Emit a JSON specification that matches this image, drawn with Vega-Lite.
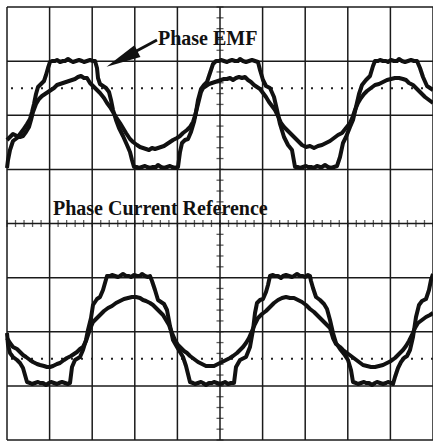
{
"$schema":"https://vega.github.io/schema/vega-lite/v6.json",
"width":426,"height":433,
"autosize":{"type":"none"},
"padding":{"left":7,"top":7,"right":0,"bottom":1},
"background":"white",
"config":{"view":{"stroke":null}},
"datasets":{
"gv":[{"d":0},{"d":1},{"d":2},{"d":3},{"d":4},{"d":5},{"d":6},{"d":7},{"d":8},{"d":9},{"d":10}],
"gh":[{"d":-4},{"d":-3},{"d":-2},{"d":-1},{"d":0},{"d":1},{"d":2},{"d":3},{"d":4}],
"dots":[{"d":2.5},{"d":-2.5}],
"tx":[{"d":0},{"d":0.2},{"d":0.4},{"d":0.6},{"d":0.8},{"d":1},{"d":1.2},{"d":1.4},{"d":1.6},{"d":1.8},{"d":2},{"d":2.2},{"d":2.4},{"d":2.6},{"d":2.8},{"d":3},{"d":3.2},{"d":3.4},{"d":3.6},{"d":3.8},{"d":4},{"d":4.2},{"d":4.4},{"d":4.6},{"d":4.8},{"d":5},{"d":5.2},{"d":5.4},{"d":5.6},{"d":5.8},{"d":6},{"d":6.2},{"d":6.4},{"d":6.6},{"d":6.8},{"d":7},{"d":7.2},{"d":7.4},{"d":7.6},{"d":7.8},{"d":8},{"d":8.2},{"d":8.4},{"d":8.6},{"d":8.8},{"d":9},{"d":9.2},{"d":9.4},{"d":9.6},{"d":9.8},{"d":10}],
"ty":[{"d":-4},{"d":-3.8},{"d":-3.6},{"d":-3.4},{"d":-3.2},{"d":-3},{"d":-2.8},{"d":-2.6},{"d":-2.4},{"d":-2.2},{"d":-2},{"d":-1.8},{"d":-1.6},{"d":-1.4},{"d":-1.2},{"d":-1},{"d":-0.8},{"d":-0.6},{"d":-0.4},{"d":-0.2},{"d":0},{"d":0.2},{"d":0.4},{"d":0.6},{"d":0.8},{"d":1},{"d":1.2},{"d":1.4},{"d":1.6},{"d":1.8},{"d":2},{"d":2.2},{"d":2.4},{"d":2.6},{"d":2.8},{"d":3},{"d":3.2},{"d":3.4},{"d":3.6},{"d":3.8},{"d":4}],
"w":[
{"s":"E1","t":7,"v":56},{"s":"E1","t":8,"v":64},{"s":"E1","t":10,"v":74},{"s":"E1","t":13,"v":83},{"s":"E1","t":17,"v":86},{"s":"E1","t":20,"v":90},{"s":"E1","t":23,"v":94},{"s":"E1","t":27,"v":100},{"s":"E1","t":30,"v":105},{"s":"E1","t":32,"v":112},{"s":"E1","t":34,"v":120},{"s":"E1","t":36,"v":130},{"s":"E1","t":38,"v":137},{"s":"E1","t":41,"v":140},{"s":"E1","t":44,"v":143},{"s":"E1","t":46,"v":149},{"s":"E1","t":48,"v":156},{"s":"E1","t":50,"v":162},
{"s":"E1","t":52,"v":163},{"s":"E1","t":55,"v":163},{"s":"E1","t":57,"v":164},{"s":"E1","t":60,"v":162},{"s":"E1","t":63,"v":163},{"s":"E1","t":65,"v":163},{"s":"E1","t":68,"v":165},{"s":"E1","t":71,"v":163},{"s":"E1","t":73,"v":162},{"s":"E1","t":76,"v":163},{"s":"E1","t":79,"v":164},{"s":"E1","t":82,"v":163},{"s":"E1","t":84,"v":162},{"s":"E1","t":87,"v":163},{"s":"E1","t":90,"v":164},{"s":"E1","t":93,"v":163},{"s":"E1","t":95,"v":163},
{"s":"E1","t":97,"v":156},{"s":"E1","t":98,"v":146},{"s":"E1","t":100,"v":140},{"s":"E1","t":103,"v":138},{"s":"E1","t":106,"v":136},{"s":"E1","t":109,"v":132},{"s":"E1","t":111,"v":124},{"s":"E1","t":113,"v":114},{"s":"E1","t":116,"v":104},{"s":"E1","t":119,"v":96},{"s":"E1","t":123,"v":88},{"s":"E1","t":127,"v":79},{"s":"E1","t":130,"v":72},{"s":"E1","t":132,"v":64},{"s":"E1","t":134,"v":57},
{"s":"E1","t":137,"v":57},{"s":"E1","t":139,"v":56},{"s":"E1","t":142,"v":57},{"s":"E1","t":145,"v":58},{"s":"E1","t":147,"v":57},{"s":"E1","t":150,"v":56},{"s":"E1","t":153,"v":57},{"s":"E1","t":156,"v":57},{"s":"E1","t":158,"v":59},{"s":"E1","t":161,"v":57},{"s":"E1","t":164,"v":56},{"s":"E1","t":167,"v":57},{"s":"E1","t":170,"v":58},{"s":"E1","t":172,"v":57},{"s":"E1","t":175,"v":56},{"s":"E1","t":178,"v":57},
{"s":"E1","t":180,"v":72},{"s":"E1","t":182,"v":81},{"s":"E1","t":185,"v":84},{"s":"E1","t":188,"v":85},{"s":"E1","t":191,"v":92},{"s":"E1","t":194,"v":102},{"s":"E1","t":196,"v":112},{"s":"E1","t":198,"v":124},{"s":"E1","t":201,"v":135},{"s":"E1","t":204,"v":139},{"s":"E1","t":207,"v":142},{"s":"E1","t":210,"v":151},{"s":"E1","t":213,"v":160},{"s":"E1","t":216,"v":163},
{"s":"E1","t":219,"v":163},{"s":"E1","t":221,"v":164},{"s":"E1","t":224,"v":163},{"s":"E1","t":227,"v":162},{"s":"E1","t":229,"v":163},{"s":"E1","t":232,"v":164},{"s":"E1","t":235,"v":163},{"s":"E1","t":238,"v":163},{"s":"E1","t":240,"v":165},{"s":"E1","t":243,"v":163},{"s":"E1","t":246,"v":162},{"s":"E1","t":249,"v":163},{"s":"E1","t":252,"v":164},{"s":"E1","t":255,"v":163},{"s":"E1","t":258,"v":162},
{"s":"E1","t":260,"v":154},{"s":"E1","t":263,"v":144},{"s":"E1","t":266,"v":138},{"s":"E1","t":270,"v":136},{"s":"E1","t":274,"v":127},{"s":"E1","t":277,"v":114},{"s":"E1","t":280,"v":100},{"s":"E1","t":284,"v":87},{"s":"E1","t":288,"v":79},{"s":"E1","t":292,"v":74},{"s":"E1","t":295,"v":57},
{"s":"E1","t":298,"v":57},{"s":"E1","t":300,"v":56},{"s":"E1","t":303,"v":57},{"s":"E1","t":306,"v":58},{"s":"E1","t":308,"v":57},{"s":"E1","t":311,"v":57},{"s":"E1","t":314,"v":56},{"s":"E1","t":317,"v":58},{"s":"E1","t":320,"v":57},{"s":"E1","t":322,"v":57},{"s":"E1","t":325,"v":59},{"s":"E1","t":328,"v":57},{"s":"E1","t":331,"v":56},{"s":"E1","t":334,"v":57},{"s":"E1","t":337,"v":58},
{"s":"E1","t":340,"v":67},{"s":"E1","t":343,"v":81},{"s":"E1","t":346,"v":87},{"s":"E1","t":350,"v":97},{"s":"E1","t":353,"v":104},{"s":"E1","t":356,"v":117},{"s":"E1","t":359,"v":130},{"s":"E1","t":362,"v":139},{"s":"E1","t":366,"v":144},{"s":"E1","t":370,"v":148},{"s":"E1","t":373,"v":158},{"s":"E1","t":375,"v":163},
{"s":"E1","t":378,"v":163},{"s":"E1","t":380,"v":164},{"s":"E1","t":383,"v":163},{"s":"E1","t":386,"v":163},{"s":"E1","t":388,"v":162},{"s":"E1","t":391,"v":164},{"s":"E1","t":394,"v":163},{"s":"E1","t":397,"v":163},{"s":"E1","t":399,"v":165},{"s":"E1","t":402,"v":163},{"s":"E1","t":405,"v":162},{"s":"E1","t":408,"v":163},{"s":"E1","t":411,"v":164},{"s":"E1","t":414,"v":163},{"s":"E1","t":417,"v":163},
{"s":"E1","t":420,"v":156},{"s":"E1","t":423,"v":147},{"s":"E1","t":427,"v":138},{"s":"E1","t":430,"v":136},{"s":"E1","t":433,"v":134},
{"s":"C1","t":7,"v":84},{"s":"C1","t":10,"v":87},{"s":"C1","t":13,"v":90},{"s":"C1","t":17,"v":88},{"s":"C1","t":20,"v":87},{"s":"C1","t":23,"v":88},{"s":"C1","t":26,"v":92},{"s":"C1","t":29,"v":97},{"s":"C1","t":31,"v":104},{"s":"C1","t":33,"v":112},{"s":"C1","t":36,"v":120},{"s":"C1","t":39,"v":125},{"s":"C1","t":42,"v":128},{"s":"C1","t":45,"v":130},{"s":"C1","t":48,"v":132},{"s":"C1","t":51,"v":134},{"s":"C1","t":54,"v":136},{"s":"C1","t":57,"v":139},{"s":"C1","t":60,"v":140},{"s":"C1","t":63,"v":141},{"s":"C1","t":66,"v":142},{"s":"C1","t":69,"v":143},{"s":"C1","t":72,"v":144},{"s":"C1","t":75,"v":145},{"s":"C1","t":78,"v":147},{"s":"C1","t":81,"v":148},{"s":"C1","t":84,"v":146},{"s":"C1","t":87,"v":146},{"s":"C1","t":90,"v":141},{"s":"C1","t":93,"v":138},{"s":"C1","t":96,"v":135},{"s":"C1","t":100,"v":131},{"s":"C1","t":104,"v":126},{"s":"C1","t":107,"v":121},{"s":"C1","t":110,"v":117},{"s":"C1","t":113,"v":112},{"s":"C1","t":116,"v":107},{"s":"C1","t":120,"v":101},{"s":"C1","t":123,"v":96},{"s":"C1","t":126,"v":91},{"s":"C1","t":130,"v":85},{"s":"C1","t":133,"v":82},{"s":"C1","t":137,"v":79},{"s":"C1","t":140,"v":77},{"s":"C1","t":143,"v":76},{"s":"C1","t":146,"v":75},{"s":"C1","t":149,"v":74},{"s":"C1","t":152,"v":76},{"s":"C1","t":155,"v":75},{"s":"C1","t":158,"v":76},{"s":"C1","t":161,"v":77},{"s":"C1","t":164,"v":78},{"s":"C1","t":167,"v":80},{"s":"C1","t":170,"v":82},{"s":"C1","t":173,"v":84},{"s":"C1","t":177,"v":86},{"s":"C1","t":180,"v":88},{"s":"C1","t":183,"v":91},{"s":"C1","t":187,"v":94},{"s":"C1","t":190,"v":97},{"s":"C1","t":193,"v":102},{"s":"C1","t":195,"v":108},{"s":"C1","t":197,"v":116},{"s":"C1","t":199,"v":124},{"s":"C1","t":201,"v":132},{"s":"C1","t":203,"v":136},{"s":"C1","t":206,"v":138},{"s":"C1","t":209,"v":140},{"s":"C1","t":212,"v":141},{"s":"C1","t":215,"v":142},{"s":"C1","t":218,"v":143},{"s":"C1","t":221,"v":144},{"s":"C1","t":224,"v":145},{"s":"C1","t":227,"v":145},{"s":"C1","t":230,"v":146},{"s":"C1","t":233,"v":144},{"s":"C1","t":236,"v":146},{"s":"C1","t":239,"v":147},{"s":"C1","t":242,"v":146},{"s":"C1","t":245,"v":147},{"s":"C1","t":248,"v":144},{"s":"C1","t":251,"v":142},{"s":"C1","t":254,"v":139},{"s":"C1","t":257,"v":137},{"s":"C1","t":260,"v":135},{"s":"C1","t":263,"v":131},{"s":"C1","t":266,"v":127},{"s":"C1","t":269,"v":122},{"s":"C1","t":272,"v":118},{"s":"C1","t":275,"v":114},{"s":"C1","t":278,"v":108},{"s":"C1","t":281,"v":101},{"s":"C1","t":284,"v":97},{"s":"C1","t":287,"v":94},{"s":"C1","t":290,"v":91},{"s":"C1","t":294,"v":87},{"s":"C1","t":298,"v":83},{"s":"C1","t":302,"v":79},{"s":"C1","t":306,"v":77},{"s":"C1","t":310,"v":78},{"s":"C1","t":314,"v":76},{"s":"C1","t":318,"v":78},{"s":"C1","t":322,"v":79},{"s":"C1","t":326,"v":81},{"s":"C1","t":330,"v":83},{"s":"C1","t":334,"v":86},{"s":"C1","t":338,"v":89},{"s":"C1","t":342,"v":91},{"s":"C1","t":346,"v":96},{"s":"C1","t":350,"v":101},{"s":"C1","t":353,"v":108},{"s":"C1","t":355,"v":114},{"s":"C1","t":358,"v":121},{"s":"C1","t":361,"v":126},{"s":"C1","t":364,"v":130},{"s":"C1","t":367,"v":133},{"s":"C1","t":371,"v":136},{"s":"C1","t":375,"v":139},{"s":"C1","t":379,"v":140},{"s":"C1","t":383,"v":142},{"s":"C1","t":387,"v":144},{"s":"C1","t":391,"v":145},{"s":"C1","t":395,"v":146},{"s":"C1","t":399,"v":146},{"s":"C1","t":403,"v":145},{"s":"C1","t":406,"v":144},{"s":"C1","t":409,"v":141},{"s":"C1","t":413,"v":139},{"s":"C1","t":417,"v":135},{"s":"C1","t":421,"v":131},{"s":"C1","t":425,"v":127},{"s":"C1","t":429,"v":124},{"s":"C1","t":433,"v":121},
{"s":"E2","t":7,"v":-109},{"s":"E2","t":8,"v":-121},{"s":"E2","t":10,"v":-129},{"s":"E2","t":13,"v":-133},{"s":"E2","t":17,"v":-136},{"s":"E2","t":20,"v":-139},{"s":"E2","t":23,"v":-144},{"s":"E2","t":25,"v":-151},{"s":"E2","t":27,"v":-158},
{"s":"E2","t":30,"v":-159},{"s":"E2","t":32,"v":-160},{"s":"E2","t":35,"v":-159},{"s":"E2","t":38,"v":-158},{"s":"E2","t":40,"v":-159},{"s":"E2","t":43,"v":-159},{"s":"E2","t":46,"v":-161},{"s":"E2","t":49,"v":-159},{"s":"E2","t":51,"v":-158},{"s":"E2","t":54,"v":-159},{"s":"E2","t":57,"v":-160},{"s":"E2","t":59,"v":-159},{"s":"E2","t":62,"v":-158},{"s":"E2","t":65,"v":-159},{"s":"E2","t":68,"v":-160},{"s":"E2","t":70,"v":-159},
{"s":"E2","t":72,"v":-143},{"s":"E2","t":75,"v":-136},{"s":"E2","t":80,"v":-133},{"s":"E2","t":83,"v":-126},{"s":"E2","t":86,"v":-116},{"s":"E2","t":88,"v":-106},{"s":"E2","t":91,"v":-94},{"s":"E2","t":93,"v":-81},{"s":"E2","t":97,"v":-75},{"s":"E2","t":100,"v":-73},{"s":"E2","t":103,"v":-66},{"s":"E2","t":105,"v":-59},{"s":"E2","t":107,"v":-52},
{"s":"E2","t":110,"v":-52},{"s":"E2","t":112,"v":-51},{"s":"E2","t":115,"v":-52},{"s":"E2","t":118,"v":-53},{"s":"E2","t":120,"v":-52},{"s":"E2","t":123,"v":-50},{"s":"E2","t":126,"v":-52},{"s":"E2","t":129,"v":-52},{"s":"E2","t":131,"v":-53},{"s":"E2","t":134,"v":-51},{"s":"E2","t":137,"v":-52},{"s":"E2","t":140,"v":-52},{"s":"E2","t":142,"v":-50},{"s":"E2","t":145,"v":-52},{"s":"E2","t":148,"v":-53},{"s":"E2","t":150,"v":-52},
{"s":"E2","t":152,"v":-57},{"s":"E2","t":155,"v":-66},{"s":"E2","t":158,"v":-76},{"s":"E2","t":161,"v":-78},{"s":"E2","t":164,"v":-80},{"s":"E2","t":167,"v":-86},{"s":"E2","t":170,"v":-102},{"s":"E2","t":173,"v":-116},{"s":"E2","t":177,"v":-123},{"s":"E2","t":180,"v":-128},{"s":"E2","t":183,"v":-133},{"s":"E2","t":186,"v":-142},{"s":"E2","t":188,"v":-150},{"s":"E2","t":190,"v":-158},
{"s":"E2","t":193,"v":-159},{"s":"E2","t":195,"v":-160},{"s":"E2","t":198,"v":-159},{"s":"E2","t":201,"v":-158},{"s":"E2","t":203,"v":-159},{"s":"E2","t":206,"v":-161},{"s":"E2","t":209,"v":-159},{"s":"E2","t":212,"v":-159},{"s":"E2","t":214,"v":-158},{"s":"E2","t":217,"v":-159},{"s":"E2","t":220,"v":-160},{"s":"E2","t":223,"v":-159},{"s":"E2","t":225,"v":-158},{"s":"E2","t":228,"v":-160},{"s":"E2","t":231,"v":-159},{"s":"E2","t":234,"v":-159},
{"s":"E2","t":236,"v":-143},{"s":"E2","t":240,"v":-136},{"s":"E2","t":246,"v":-133},{"s":"E2","t":250,"v":-123},{"s":"E2","t":253,"v":-106},{"s":"E2","t":255,"v":-89},{"s":"E2","t":257,"v":-79},{"s":"E2","t":260,"v":-76},{"s":"E2","t":263,"v":-75},{"s":"E2","t":266,"v":-68},{"s":"E2","t":268,"v":-61},{"s":"E2","t":270,"v":-52},
{"s":"E2","t":273,"v":-51},{"s":"E2","t":275,"v":-52},{"s":"E2","t":278,"v":-52},{"s":"E2","t":281,"v":-54},{"s":"E2","t":283,"v":-52},{"s":"E2","t":286,"v":-51},{"s":"E2","t":289,"v":-52},{"s":"E2","t":292,"v":-53},{"s":"E2","t":294,"v":-52},{"s":"E2","t":297,"v":-50},{"s":"E2","t":300,"v":-52},{"s":"E2","t":303,"v":-52},{"s":"E2","t":305,"v":-53},{"s":"E2","t":308,"v":-51},{"s":"E2","t":310,"v":-52},
{"s":"E2","t":311,"v":-57},{"s":"E2","t":313,"v":-64},{"s":"E2","t":316,"v":-73},{"s":"E2","t":320,"v":-76},{"s":"E2","t":324,"v":-80},{"s":"E2","t":327,"v":-85},{"s":"E2","t":330,"v":-96},{"s":"E2","t":333,"v":-109},{"s":"E2","t":336,"v":-119},{"s":"E2","t":340,"v":-125},{"s":"E2","t":344,"v":-130},{"s":"E2","t":348,"v":-136},{"s":"E2","t":351,"v":-146},{"s":"E2","t":353,"v":-158},
{"s":"E2","t":356,"v":-159},{"s":"E2","t":358,"v":-160},{"s":"E2","t":361,"v":-159},{"s":"E2","t":364,"v":-158},{"s":"E2","t":366,"v":-159},{"s":"E2","t":369,"v":-159},{"s":"E2","t":372,"v":-161},{"s":"E2","t":375,"v":-159},{"s":"E2","t":377,"v":-158},{"s":"E2","t":380,"v":-159},{"s":"E2","t":383,"v":-160},{"s":"E2","t":386,"v":-159},{"s":"E2","t":388,"v":-158},{"s":"E2","t":391,"v":-159},{"s":"E2","t":393,"v":-160},
{"s":"E2","t":395,"v":-153},{"s":"E2","t":398,"v":-144},{"s":"E2","t":401,"v":-138},{"s":"E2","t":404,"v":-134},{"s":"E2","t":407,"v":-132},{"s":"E2","t":410,"v":-126},{"s":"E2","t":413,"v":-113},{"s":"E2","t":416,"v":-93},{"s":"E2","t":419,"v":-81},{"s":"E2","t":422,"v":-77},{"s":"E2","t":426,"v":-75},{"s":"E2","t":429,"v":-66},{"s":"E2","t":431,"v":-56},{"s":"E2","t":433,"v":-50},
{"s":"C2","t":7,"v":-114},{"s":"C2","t":10,"v":-119},{"s":"C2","t":13,"v":-123},{"s":"C2","t":17,"v":-125},{"s":"C2","t":20,"v":-128},{"s":"C2","t":23,"v":-131},{"s":"C2","t":26,"v":-133},{"s":"C2","t":30,"v":-136},{"s":"C2","t":33,"v":-138},{"s":"C2","t":37,"v":-140},{"s":"C2","t":40,"v":-141},{"s":"C2","t":44,"v":-142},{"s":"C2","t":47,"v":-143},{"s":"C2","t":50,"v":-143},{"s":"C2","t":53,"v":-142},{"s":"C2","t":57,"v":-140},{"s":"C2","t":60,"v":-139},{"s":"C2","t":64,"v":-136},{"s":"C2","t":67,"v":-134},{"s":"C2","t":71,"v":-132},{"s":"C2","t":74,"v":-130},{"s":"C2","t":77,"v":-128},{"s":"C2","t":80,"v":-125},{"s":"C2","t":83,"v":-123},{"s":"C2","t":86,"v":-117},{"s":"C2","t":88,"v":-111},{"s":"C2","t":90,"v":-105},{"s":"C2","t":93,"v":-98},{"s":"C2","t":96,"v":-95},{"s":"C2","t":100,"v":-91},{"s":"C2","t":104,"v":-87},{"s":"C2","t":108,"v":-84},{"s":"C2","t":112,"v":-82},{"s":"C2","t":116,"v":-79},{"s":"C2","t":120,"v":-77},{"s":"C2","t":124,"v":-75},{"s":"C2","t":128,"v":-74},{"s":"C2","t":132,"v":-73},{"s":"C2","t":136,"v":-73},{"s":"C2","t":140,"v":-74},{"s":"C2","t":143,"v":-76},{"s":"C2","t":146,"v":-77},{"s":"C2","t":150,"v":-79},{"s":"C2","t":153,"v":-81},{"s":"C2","t":156,"v":-84},{"s":"C2","t":160,"v":-88},{"s":"C2","t":163,"v":-91},{"s":"C2","t":166,"v":-96},{"s":"C2","t":169,"v":-101},{"s":"C2","t":172,"v":-109},{"s":"C2","t":175,"v":-116},{"s":"C2","t":178,"v":-121},{"s":"C2","t":181,"v":-124},{"s":"C2","t":184,"v":-127},{"s":"C2","t":187,"v":-129},{"s":"C2","t":190,"v":-132},{"s":"C2","t":194,"v":-135},{"s":"C2","t":198,"v":-138},{"s":"C2","t":202,"v":-140},{"s":"C2","t":206,"v":-142},{"s":"C2","t":210,"v":-142},{"s":"C2","t":214,"v":-142},{"s":"C2","t":218,"v":-140},{"s":"C2","t":222,"v":-138},{"s":"C2","t":226,"v":-136},{"s":"C2","t":230,"v":-134},{"s":"C2","t":233,"v":-132},{"s":"C2","t":237,"v":-129},{"s":"C2","t":240,"v":-126},{"s":"C2","t":243,"v":-123},{"s":"C2","t":246,"v":-119},{"s":"C2","t":249,"v":-114},{"s":"C2","t":252,"v":-107},{"s":"C2","t":255,"v":-100},{"s":"C2","t":258,"v":-94},{"s":"C2","t":262,"v":-90},{"s":"C2","t":266,"v":-87},{"s":"C2","t":270,"v":-83},{"s":"C2","t":274,"v":-79},{"s":"C2","t":278,"v":-76},{"s":"C2","t":282,"v":-74},{"s":"C2","t":286,"v":-73},{"s":"C2","t":290,"v":-74},{"s":"C2","t":294,"v":-74},{"s":"C2","t":298,"v":-76},{"s":"C2","t":302,"v":-78},{"s":"C2","t":306,"v":-81},{"s":"C2","t":310,"v":-85},{"s":"C2","t":314,"v":-88},{"s":"C2","t":318,"v":-92},{"s":"C2","t":322,"v":-96},{"s":"C2","t":326,"v":-100},{"s":"C2","t":330,"v":-104},{"s":"C2","t":333,"v":-114},{"s":"C2","t":336,"v":-120},{"s":"C2","t":340,"v":-123},{"s":"C2","t":343,"v":-126},{"s":"C2","t":347,"v":-129},{"s":"C2","t":351,"v":-132},{"s":"C2","t":355,"v":-135},{"s":"C2","t":359,"v":-138},{"s":"C2","t":363,"v":-141},{"s":"C2","t":367,"v":-142},{"s":"C2","t":371,"v":-143},{"s":"C2","t":375,"v":-143},{"s":"C2","t":379,"v":-142},{"s":"C2","t":383,"v":-141},{"s":"C2","t":387,"v":-139},{"s":"C2","t":391,"v":-137},{"s":"C2","t":395,"v":-134},{"s":"C2","t":399,"v":-130},{"s":"C2","t":403,"v":-126},{"s":"C2","t":406,"v":-122},{"s":"C2","t":409,"v":-117},{"s":"C2","t":412,"v":-111},{"s":"C2","t":415,"v":-104},{"s":"C2","t":418,"v":-99},{"s":"C2","t":422,"v":-96},{"s":"C2","t":426,"v":-93},{"s":"C2","t":430,"v":-91},{"s":"C2","t":433,"v":-89}
],
"labels":[{"t":158,"v":179,"label":"Phase EMF"},{"t":53,"v":9,"label":"Phase Current Reference"}],
"arrow":[{"t":157,"v":184,"t2":129,"v2":169}],
"head":[{"t":122,"v":165}]
},
"layer":[
{"layer":[
{"data":{"name":"gv"},"mark":{"type":"rule","color":"#1a1a1a","strokeWidth":1.5},"encoding":{"x":{"field":"d","type":"quantitative","scale":{"domain":[0,10],"nice":false,"zero":false},"axis":null}}},
{"data":{"name":"gh"},"mark":{"type":"rule","color":"#1a1a1a","strokeWidth":1.5},"encoding":{"y":{"field":"d","type":"quantitative","scale":{"domain":[-4,4],"nice":false,"zero":false},"axis":null}}},
{"data":{"name":"dots"},"mark":{"type":"rule","color":"#222","strokeWidth":2,"strokeDash":[2,8]},"encoding":{"y":{"field":"d","type":"quantitative","scale":{"domain":[-4,4],"nice":false,"zero":false},"axis":null}}},
{"data":{"name":"tx"},"mark":{"type":"tick","orient":"vertical","size":7,"thickness":1.3,"color":"#1a1a1a"},"encoding":{"x":{"field":"d","type":"quantitative","scale":{"domain":[0,10],"nice":false,"zero":false},"axis":null},"y":{"datum":0,"type":"quantitative","scale":{"domain":[-4,4],"nice":false,"zero":false},"axis":null}}},
{"data":{"name":"ty"},"mark":{"type":"tick","orient":"horizontal","size":7,"thickness":1.3,"color":"#1a1a1a"},"encoding":{"y":{"field":"d","type":"quantitative","scale":{"domain":[-4,4],"nice":false,"zero":false},"axis":null},"x":{"datum":5,"type":"quantitative","scale":{"domain":[0,10],"nice":false,"zero":false},"axis":null}}}
]},
{"layer":[
{"data":{"name":"w"},"mark":{"type":"line","color":"#111","strokeWidth":4,"strokeJoin":"round"},"encoding":{"x":{"field":"t","type":"quantitative","scale":{"domain":[7,433],"nice":false,"zero":false},"axis":null},"y":{"field":"v","type":"quantitative","scale":{"domain":[-216,217],"nice":false,"zero":false},"axis":null},"detail":{"field":"s"}}},
{"data":{"name":"arrow"},"mark":{"type":"rule","color":"#111","strokeWidth":3},"encoding":{"x":{"field":"t","type":"quantitative"},"y":{"field":"v","type":"quantitative"},"x2":{"field":"t2"},"y2":{"field":"v2"}}},
{"data":{"name":"head"},"mark":{"type":"point","shape":"M0,-1L0.38,1L-0.38,1Z","size":1200,"angle":243,"filled":true,"color":"#111","opacity":1},"encoding":{"x":{"field":"t","type":"quantitative"},"y":{"field":"v","type":"quantitative"}}},
{"data":{"name":"labels"},"mark":{"type":"text","align":"left","baseline":"alphabetic","font":"Liberation Serif","fontWeight":"bold","fontSize":20,"color":"#111"},"encoding":{"x":{"field":"t","type":"quantitative"},"y":{"field":"v","type":"quantitative"},"text":{"field":"label"}}}
]}
],
"resolve":{"scale":{"x":"independent","y":"independent"}}
}
